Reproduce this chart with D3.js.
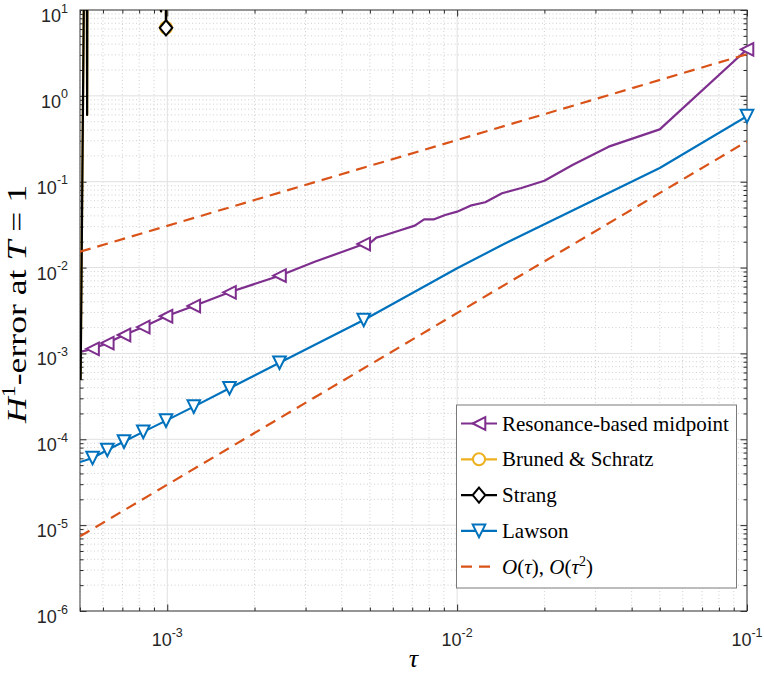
<!DOCTYPE html>
<html>
<head>
<meta charset="utf-8">
<script src="https://cdn.jsdelivr.net/npm/d3@7"></script>
<style>
  body { margin: 0; background: #fff; }
  svg { display: block; }
</style>
</head>
<body>
<div class="display"></div>
<script>
// step counts N (tau = 1/N) and H^1 errors
const resN   = [10, 20, 30, 40, 50, 60, 70, 80, 90, 100, 110, 120, 130, 140, 160, 180, 190, 200, 210, 230, 310, 410, 610, 810, 1010, 1210, 1410, 1610, 1810, 2000];
const resErr = [3.48, 0.407, 0.256, 0.1566, 0.1028, 0.0845, 0.0733, 0.0576, 0.0526, 0.0448, 0.0409, 0.0365, 0.0365, 0.0308, 0.0267, 0.0235, 0.0223, 0.0192, 0.01883, 0.01675, 0.0117, 8.04e-3, 5.15e-3, 3.57e-3, 2.71e-3, 2.03e-3, 1.64e-3, 1.32e-3, 1.13e-3, 1.04e-3];

const lawN   = [10, 20, 70, 100, 210, 410, 610, 810, 1010, 1210, 1410, 1610, 1810, 2000];
const lawErr = [0.58, 0.1445, 0.01834, 9.8e-3, 2.45e-3, 7.8e-4, 3.93e-4, 2.4e-4, 1.65e-4, 1.22e-4, 9.4e-5, 7.5e-5, 6.05e-5, 5.43e-5];

// Strang and Bruned & Schratz blow up, most values lie far above the axes
const strN   = [10, 1000, 1010, 1020, 1040, 1050, 1880, 1890, 1900, 1930, 1940, 1990];
const strErr = [1e3, 1e3, 6.2, 1e3, 1e3, 9.6, 1e4, 0.6, 1e4, 1e4, 12, 4.9e-4];
const bsN    = [10, 1000, 1010, 1020, 1040, 1050, 1880, 1890, 1900, 1930, 1940, 1990];
const bsErr  = [1e3, 1e3, 6.2, 1e3, 1e3, 9.6, 1e4, 0.6, 1e4, 1e4, 12, 4.9e-4];

// marker positions (every 20th step)
const markN = [10, 210, 410, 610, 810, 1010, 1210, 1410, 1610, 1810];

// reference slopes
const refTau = [5e-4, 0.1];
const ref1   = [0.0153, 3.06];
const ref2   = [7.4e-6, 0.295];

const xTickVals = [1e-3, 1e-2, 1e-1];
const yTickVals = [1e-6, 1e-5, 1e-4, 1e-3, 1e-2, 1e-1, 1, 10];

const legendNames = ['Resonance-based midpoint', 'Bruned & Schratz', 'Strang', 'Lawson'];

const width = 764;
const height = 674;
const pLeft = 80, pRight = 747, pTop = 10, pBottom = 611;

const svg = d3.select('.display')
  .append('svg')
  .attr('width', width)
  .attr('height', height);

const xScale = d3.scaleLog().domain([5e-4, 0.1]).range([pLeft, pRight]);
const yScale = d3.scaleLog().domain([1e-6, 10]).range([pBottom, pTop]);

const isMajor = v => Math.abs(Math.log10(v) - Math.round(Math.log10(v))) < 1e-9;
const xMinor = xScale.ticks().filter(v => !isMajor(v));
const yMinor = yScale.ticks().filter(v => !isMajor(v));

// grid
const grid = svg.append('g');
grid.selectAll('.xmin').data(xMinor).enter().append('line')
  .attr('x1', d => xScale(d)).attr('x2', d => xScale(d))
  .attr('y1', pTop).attr('y2', pBottom)
  .attr('stroke', '#c4c4c4').attr('stroke-width', 0.8).attr('stroke-dasharray', '1,2.5');
grid.selectAll('.ymin').data(yMinor).enter().append('line')
  .attr('y1', d => yScale(d)).attr('y2', d => yScale(d))
  .attr('x1', pLeft).attr('x2', pRight)
  .attr('stroke', '#c4c4c4').attr('stroke-width', 0.8).attr('stroke-dasharray', '1,2.5');
grid.selectAll('.xmaj').data(xTickVals).enter().append('line')
  .attr('x1', d => xScale(d)).attr('x2', d => xScale(d))
  .attr('y1', pTop).attr('y2', pBottom)
  .attr('stroke', '#e0e0e0').attr('stroke-width', 1);
grid.selectAll('.ymaj').data(yTickVals).enter().append('line')
  .attr('y1', d => yScale(d)).attr('y2', d => yScale(d))
  .attr('x1', pLeft).attr('x2', pRight)
  .attr('stroke', '#e0e0e0').attr('stroke-width', 1);

// axes with inward ticks on all four sides
function styleAxis(g) {
  g.select('.domain').remove();
  g.selectAll('.tick line').attr('stroke', '#262626');
  g.selectAll('.tick text').remove();
}
const allX = xScale.ticks();
const allY = yScale.ticks();
svg.append('g').attr('transform', `translate(0,${pBottom})`)
  .call(d3.axisBottom(xScale).tickValues(allX).tickSize(0)).call(styleAxis)
  .selectAll('.tick line').attr('y2', d => isMajor(d) ? -6.5 : -3.5);
svg.append('g').attr('transform', `translate(0,${pTop})`)
  .call(d3.axisTop(xScale).tickValues(allX).tickSize(0)).call(styleAxis)
  .selectAll('.tick line').attr('y2', d => isMajor(d) ? 6.5 : 3.5);
svg.append('g').attr('transform', `translate(${pLeft},0)`)
  .call(d3.axisLeft(yScale).tickValues(allY).tickSize(0)).call(styleAxis)
  .selectAll('.tick line').attr('x2', d => isMajor(d) ? 6.5 : 3.5);
svg.append('g').attr('transform', `translate(${pRight},0)`)
  .call(d3.axisRight(yScale).tickValues(allY).tickSize(0)).call(styleAxis)
  .selectAll('.tick line').attr('x2', d => isMajor(d) ? -6.5 : -3.5);

svg.append('rect')
  .attr('x', pLeft).attr('y', pTop)
  .attr('width', pRight - pLeft).attr('height', pBottom - pTop)
  .attr('fill', 'none').attr('stroke', '#3a3a3a').attr('stroke-width', 1);

// tick labels 10^k
const tickFont = 'Liberation Sans, Arial, Helvetica, sans-serif';
function powLabel(sel, exp) {
  sel.append('tspan').text('10');
  sel.append('tspan').attr('dy', -9.5).attr('font-size', 12.5).text(String(exp));
}
yTickVals.forEach(v => {
  const t = svg.append('text')
    .attr('x', 68).attr('y', yScale(v) + 12)
    .attr('text-anchor', 'end')
    .attr('font-family', tickFont).attr('font-size', 18).attr('fill', '#262626');
  powLabel(t, Math.round(Math.log10(v)));
});
xTickVals.forEach(v => {
  const t = svg.append('text')
    .attr('x', xScale(v)).attr('y', pBottom + 35)
    .attr('text-anchor', 'middle')
    .attr('font-family', tickFont).attr('font-size', 18).attr('fill', '#262626');
  powLabel(t, Math.round(Math.log10(v)));
});

// axis labels
const serif = "'Liberation Serif', 'Times New Roman', serif";
svg.append('text')
  .attr('x', (pLeft + pRight) / 2).attr('y', 667)
  .attr('text-anchor', 'middle')
  .attr('font-family', serif).attr('font-style', 'italic').attr('font-size', 26)
  .text('τ');

const ylab = svg.append('text')
  .attr('transform', 'translate(25.5,304) rotate(-90)')
  .attr('text-anchor', 'middle')
  .attr('textLength', 238).attr('lengthAdjust', 'spacingAndGlyphs')
  .attr('font-family', serif).attr('font-size', 27.5).attr('fill', '#000');
ylab.append('tspan').attr('font-style', 'italic').text('H');
ylab.append('tspan').attr('dy', -11).attr('font-size', 18.5).text('1');
ylab.append('tspan').attr('dy', 11).text('-error at ');
ylab.append('tspan').attr('font-style', 'italic').text('T');
ylab.append('tspan').text('\u2005=\u20051');

// data lines
svg.append('clipPath').attr('id', 'plotclip')
  .append('rect').attr('x', pLeft).attr('y', pTop)
  .attr('width', pRight - pLeft).attr('height', pBottom - pTop);

const plot = svg.append('g');

const line = d3.line()
  .x(d => xScale(d[0]))
  .y(d => yScale(d[1]));

const purple = '#7E2F8E', yellow = '#EDB120', black = '#000000', blue = '#0072BD', orange = '#D95319';

function markerPath(type, s) {
  if (type === 'left') return `M${-s},0L${s},${-s}L${s},${s}Z`;
  if (type === 'down') return `M${-s},${-s}L${s},${-s}L0,${s}Z`;
  if (type === 'diamond') return `M0,${-s * 1.2}L${s},0L0,${s * 1.2}L${-s},0Z`;
  return null;
}

function drawMarker(g, type, color, px, py) {
  if (type === 'circle') {
    g.append('circle').attr('cx', px).attr('cy', py).attr('r', 6)
      .attr('fill', '#fff').attr('stroke', color).attr('stroke-width', 2);
  } else {
    g.append('path').attr('d', markerPath(type, 6.3))
      .attr('transform', `translate(${px},${py})`)
      .attr('fill', '#fff').attr('stroke', color).attr('stroke-width', 2)
      .attr('stroke-linejoin', 'miter');
  }
}

const series = [
  { N: resN, err: resErr, color: purple, marker: 'left' },
  { N: bsN, err: bsErr, color: yellow, marker: 'circle' },
  { N: strN, err: strErr, color: black, marker: 'diamond' },
  { N: lawN, err: lawErr, color: blue, marker: 'down' }
];

series.forEach(s => {
  const pts = s.N.map((n, i) => [1 / n, s.err[i]]);
  const g = plot.append('g');
  g.append('path')
    .attr('clip-path', 'url(#plotclip)')
    .attr('d', line(pts))
    .attr('fill', 'none').attr('stroke', s.color).attr('stroke-width', 2.2)
    .attr('stroke-linejoin', 'round');
  pts.filter((p, i) => markN.includes(s.N[i]) && p[1] >= 1e-6 && p[1] <= 10)
    .forEach(p => drawMarker(g, s.marker, s.color, xScale(p[0]), yScale(p[1])));
});

[ref1, ref2].forEach(r => {
  plot.append('path')
    .attr('clip-path', 'url(#plotclip)')
    .attr('d', line(refTau.map((t, i) => [t, r[i]])))
    .attr('fill', 'none').attr('stroke', orange).attr('stroke-width', 2.2)
    .attr('stroke-dasharray', '11,7');
});

// legend
const legend = svg.append('g').attr('id', 'legend');
legend.append('rect')
  .attr('x', 456.5).attr('y', 405).attr('width', 280).attr('height', 183)
  .attr('fill', '#fff').attr('stroke', '#7a7a7a').attr('stroke-width', 1);

const legendItems = [
  { color: purple, marker: 'left', name: legendNames[0] },
  { color: yellow, marker: 'circle', name: legendNames[1] },
  { color: black, marker: 'diamond', name: legendNames[2] },
  { color: blue, marker: 'down', name: legendNames[3] },
  { color: orange, marker: null, name: null }
];
legendItems.forEach((it, i) => {
  const cy = 423.5 + i * 35.8;
  const sample = legend.append('line')
    .attr('x1', 461).attr('x2', 497).attr('y1', cy).attr('y2', cy)
    .attr('stroke', it.color).attr('stroke-width', 2.2);
  if (it.marker) drawMarker(legend, it.marker, it.color, 479, cy);
  else sample.attr('stroke-dasharray', '11,7').attr('x2', 490);
  const t = legend.append('text')
    .attr('x', 502).attr('y', cy + 7)
    .attr('font-family', serif).attr('font-size', 21).attr('fill', '#000');
  if (it.name) t.text(it.name);
  else {
    t.append('tspan').attr('font-style', 'italic').text('O');
    t.append('tspan').text('(');
    t.append('tspan').attr('font-style', 'italic').text('τ');
    t.append('tspan').text('), ');
    t.append('tspan').attr('font-style', 'italic').text('O');
    t.append('tspan').text('(');
    t.append('tspan').attr('font-style', 'italic').text('τ');
    t.append('tspan').attr('dy', -8).attr('font-size', 14).text('2');
    t.append('tspan').attr('dy', 8).text(')');
  }
});
</script>
</body>
</html>
